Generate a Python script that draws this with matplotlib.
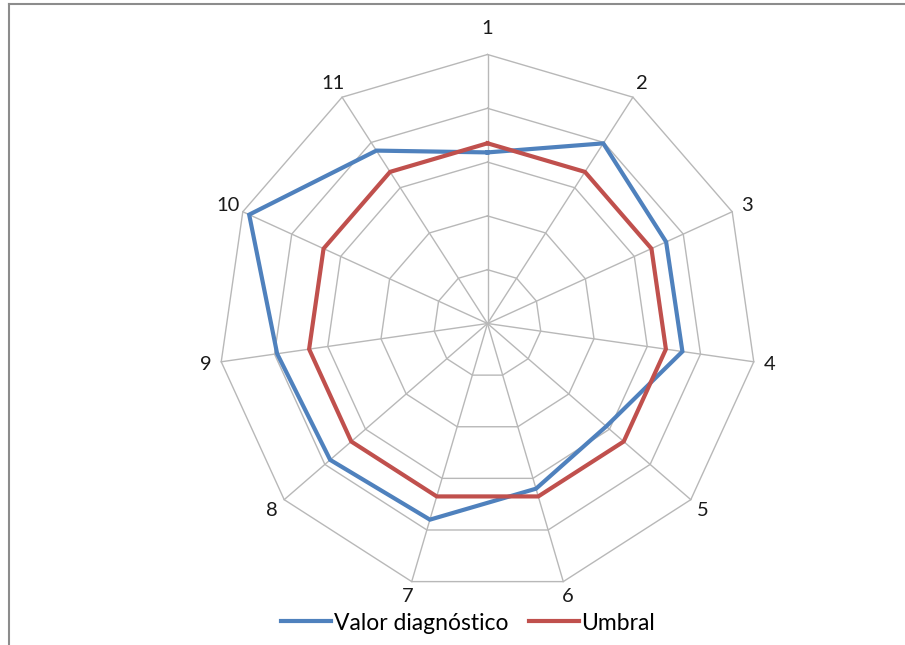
import numpy as np
import matplotlib
matplotlib.use("Agg")
import matplotlib.pyplot as plt
from matplotlib.lines import Line2D

plt.rcParams['font.family'] = ['Lato', 'DejaVu Sans']

# Radar chart data
categories = ["1", "2", "3", "4", "5", "6", "7", "8", "9", "10", "11"]
valor_diagnostico = [3.18, 3.98, 3.65, 3.66, 2.92, 3.20, 3.80, 3.87, 3.95, 4.87, 3.82]
umbral = [3.35, 3.35, 3.35, 3.35, 3.35, 3.35, 3.35, 3.35, 3.35, 3.35, 3.35]
grid_levels = [1, 2, 3, 4, 5]

W, H, DPI = 905, 645, 100
cx, cy = 487.5, 323.5          # centre of the web in pixels
px_per_unit = 269 / max(grid_levels)

fig = plt.figure(figsize=(W / DPI, H / DPI), dpi=DPI)
ax = fig.add_axes([0, 0, 1, 1])
ax.set_xlim(-cx / px_per_unit, (W - cx) / px_per_unit)
ax.set_ylim((cy - H) / px_per_unit, cy / px_per_unit)
ax.set_aspect('equal', adjustable='datalim')
ax.axis('off')

n = len(categories)
theta = np.arange(n) * 2 * np.pi / n


def to_xy(r):
    r = np.asarray(r, dtype=float)
    return r * np.sin(theta), r * np.cos(theta)


grid_color = '#B8B8B8'
# polygonal rings
for lvl in grid_levels:
    x, y = to_xy([lvl] * n)
    ax.plot(np.append(x, x[0]), np.append(y, y[0]), color=grid_color, lw=1.0, zorder=1)
# spokes
rmax = max(grid_levels)
for t in theta:
    ax.plot([0, rmax * np.sin(t)], [0, rmax * np.cos(t)], color=grid_color, lw=1.0, zorder=1)

# series
blue = '#4F81BD'
red = '#C0504D'
for vals, col in ((valor_diagnostico, blue), (umbral, red)):
    x, y = to_xy(vals)
    ax.plot(np.append(x, x[0]), np.append(y, y[0]), color=col, lw=3.0,
            solid_joinstyle='miter', zorder=3)

# category labels
label_r = rmax + 16 / px_per_unit
for t, lab in zip(theta, categories):
    r = label_r + (10 / px_per_unit if abs(np.sin(t)) < 0.1 else 0)
    ax.text(r * np.sin(t), r * np.cos(t), lab, ha='center', va='center',
            fontsize=14.5, color='#1a1a1a')

# legend
handles = [Line2D([], [], color=blue, lw=3.0), Line2D([], [], color=red, lw=3.0)]
fig.legend(handles, ["Valor diagnóstico", "Umbral"], loc='center',
           bbox_to_anchor=(468 / W, 1 - 623 / H), ncol=2, frameon=False,
           fontsize=16.5, handlelength=2.2, handletextpad=0.1, columnspacing=0.9)

# chart-area border (top and left edges)
fig.add_artist(Line2D([9 / W, 1], [1 - 3.5 / H, 1 - 3.5 / H], color='#8C8C8C', lw=1.5,
                      transform=fig.transFigure))
fig.add_artist(Line2D([9 / W, 9 / W], [0, 1 - 3.5 / H], color='#8C8C8C', lw=1.5,
                      transform=fig.transFigure))

fig.savefig('out.png', dpi=DPI, facecolor='white')
